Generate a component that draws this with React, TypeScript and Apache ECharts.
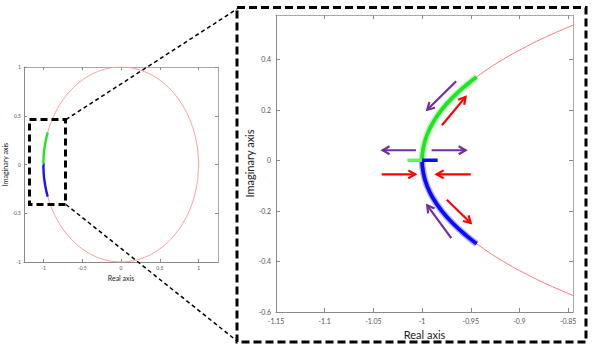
import React, { useEffect, useRef } from "react";
import * as echarts from "echarts";

// Unit circle (overview plot), read as points on the picture
const circleFull: number[][] = [
  [1, 0], [0.9848, 0.1736], [0.9397, 0.342], [0.866, 0.5], [0.766, 0.6428], [0.6428, 0.766], [0.5, 0.866],
  [0.342, 0.9397], [0.1736, 0.9848], [0, 1], [-0.1736, 0.9848], [-0.342, 0.9397], [-0.5, 0.866],
  [-0.6428, 0.766], [-0.766, 0.6428], [-0.866, 0.5], [-0.9397, 0.342], [-0.9848, 0.1736], [-1, 0],
  [-0.9848, -0.1736], [-0.9397, -0.342], [-0.866, -0.5], [-0.766, -0.6428], [-0.6428, -0.766], [-0.5, -0.866],
  [-0.342, -0.9397], [-0.1736, -0.9848], [0, -1], [0.1736, -0.9848], [0.342, -0.9397], [0.5, -0.866],
  [0.6428, -0.766], [0.766, -0.6428], [0.866, -0.5], [0.9397, -0.342], [0.9848, -0.1736], [1, 0],
];

// Arc of the circle in the zoomed plot
const circleArc: number[][] = [
  [-0.8352, -0.55], [-0.866, -0.5], [-0.893, -0.45], [-0.9165, -0.4], [-0.9367, -0.35], [-0.9539, -0.3],
  [-0.9682, -0.25], [-0.9798, -0.2], [-0.9887, -0.15], [-0.995, -0.1], [-0.9987, -0.05], [-1, 0],
  [-0.9987, 0.05], [-0.995, 0.1], [-0.9887, 0.15], [-0.9798, 0.2], [-0.9682, 0.25], [-0.9539, 0.3],
  [-0.9367, 0.35], [-0.9165, 0.4], [-0.893, 0.45], [-0.866, 0.5], [-0.8352, 0.55],
];

const greenArc: number[][] = [
  [-1, 0], [-0.9987, 0.05], [-0.995, 0.1], [-0.9887, 0.15], [-0.9798, 0.2], [-0.9682, 0.25], [-0.9539, 0.3], [-0.944, 0.33],
];
const blueArc: number[][] = [
  [-1, 0], [-0.9987, -0.05], [-0.995, -0.1], [-0.9887, -0.15], [-0.9798, -0.2], [-0.9682, -0.25], [-0.9539, -0.3], [-0.944, -0.33],
];
const greenStub: number[][] = [[-1.015, 0], [-1, 0]];
const blueStub: number[][] = [[-1, 0], [-0.984, 0]];

// Arrows: [xFrom, yFrom, xTo, yTo]
const purpleArrows: number[][] = [
  [-0.965, 0.313, -0.9947, 0.2],
  [-1.0063, 0.04, -1.0405, 0.04],
  [-0.9902, 0.04, -0.9553, 0.04],
  [-0.97, -0.308, -0.9947, -0.178],
];
const redArrows: number[][] = [
  [-0.9796, 0.139, -0.9553, 0.251],
  [-1.0415, -0.0554, -1.007, -0.0554],
  [-0.95, -0.0554, -0.985, -0.0554],
  [-0.9746, -0.1557, -0.95, -0.248],
];

// Tick labels
const overviewXTicks = [-1, -0.5, 0, 0.5, 1];
const overviewYTicks = [-1, -0.5, 0, 0.5, 1];
const zoomXTicks = [-1.15, -1.1, -1.05, -1, -0.95, -0.9, -0.85];
const zoomYTicks = [-0.6, -0.4, -0.2, 0, 0.2, 0.4];

const FONT = "Lato";

function axis(gridIndex: number, pos: string, min: number, max: number, ticks: number[], opts: any) {
  const main = pos === "bottom" || pos === "left";
  return {
    type: "value",
    gridIndex,
    position: pos,
    min,
    max,
    axisLine: { show: true, onZero: false, lineStyle: { color: main ? "#8a8a8a" : "#a8a8a8", width: 1 } },
    axisTick: { show: true, inside: true, length: opts.tickLen, customValues: ticks, lineStyle: { color: "#8a8a8a" } },
    axisLabel: main
      ? { show: true, customValues: ticks, fontSize: opts.labelSize, margin: opts.labelMargin, color: "#555", fontFamily: FONT, formatter: (v: number) => String(v) }
      : { show: false },
    splitLine: { show: false },
    name: main ? opts.name : "",
    nameLocation: "middle",
    nameGap: opts.nameGap,
    nameTextStyle: { fontSize: opts.nameSize, color: "#222", fontFamily: FONT },
  };
}

function arrowSeries(data: number[][], color: string) {
  return {
    type: "custom",
    xAxisIndex: 2,
    yAxisIndex: 2,
    data,
    z: 5,
    encode: { x: [0, 2], y: [1, 3] },
    renderItem: (params: any, api: any) => {
      const a = api.coord([api.value(0), api.value(1)]);
      const b = api.coord([api.value(2), api.value(3)]);
      const ang = Math.atan2(b[1] - a[1], b[0] - a[0]);
      const L = 8, w = 0.52;
      const h1 = [b[0] - L * Math.cos(ang - w), b[1] - L * Math.sin(ang - w)];
      const h2 = [b[0] - L * Math.cos(ang + w), b[1] - L * Math.sin(ang + w)];
      return {
        type: "group",
        children: [
          { type: "line", shape: { x1: a[0], y1: a[1], x2: b[0], y2: b[1] }, style: { stroke: color, lineWidth: 2.2 } },
          { type: "polyline", shape: { points: [h1, b, h2] }, style: { stroke: color, fill: "none", lineWidth: 2.2 } },
        ],
      };
    },
  };
}

function lineSeries(data: number[][], xi: number, yi: number, color: string, width: number, smooth: any = true, z = 2) {
  return {
    type: "line",
    xAxisIndex: xi,
    yAxisIndex: yi,
    data,
    smooth,
    symbol: "none",
    showSymbol: false,
    z,
    lineStyle: { color, width },
  };
}

export default function App() {
  const ref = useRef<HTMLDivElement>(null);
  useEffect(() => {
    if (!ref.current) return;
    const chart = echarts.init(ref.current, undefined, { renderer: "svg" });
    const ovOpts = { tickLen: 3, labelSize: 5, labelMargin: 3, nameSize: 7, nameGap: 8 };
    const ovYOpts = { ...ovOpts, nameGap: 12 };
    const zOpts = { tickLen: 4, labelSize: 7, labelMargin: 5, nameSize: 11, nameGap: 13 };
    const zYOpts = { ...zOpts, nameGap: 16 };
    chart.setOption({
      animation: false,
      backgroundColor: "#ffffff",
      grid: [
        { left: 24, top: 67, width: 194, height: 195 },
        { left: 276, top: 15, width: 297, height: 297 },
      ],
      xAxis: [
        axis(0, "bottom", -1.25, 1.25, overviewXTicks, { ...ovOpts, name: "Real axis" }),
        axis(0, "top", -1.25, 1.25, overviewXTicks, ovOpts),
        axis(1, "bottom", -1.15, -0.845, zoomXTicks, { ...zOpts, name: "Real axis" }),
        axis(1, "top", -1.15, -0.845, zoomXTicks, zOpts),
      ],
      yAxis: [
        axis(0, "left", -1, 1, overviewYTicks, { ...ovYOpts, name: "Imaginary axis" }),
        axis(0, "right", -1, 1, overviewYTicks, ovYOpts),
        axis(1, "left", -0.6, 0.575, zoomYTicks, { ...zYOpts, name: "Imaginary axis" }),
        axis(1, "right", -0.6, 0.575, zoomYTicks, zYOpts),
      ],
      series: [
        lineSeries(circleFull, 0, 0, "#ff9d9d", 1, 0.3),
        lineSeries(blueArc, 0, 0, "#1414ff", 2.4, true, 3),
        lineSeries(greenArc, 0, 0, "#22e622", 2.4, true, 3),
        lineSeries(greenStub, 0, 0, "#55ee55", 2, false, 3),
        lineSeries(blueStub, 0, 0, "#1414ff", 2, false, 3),

        lineSeries(circleArc, 2, 2, "#ff7878", 1),
        lineSeries(blueArc, 2, 2, "rgba(60,60,255,0.4)", 6.5, true, 3),
        lineSeries(greenArc, 2, 2, "rgba(80,240,80,0.4)", 6.5, true, 3),
        lineSeries(blueArc, 2, 2, "#0a0aff", 3.8, true, 4),
        lineSeries(greenArc, 2, 2, "#1ee61e", 3.8, true, 4),
        lineSeries(greenStub, 2, 2, "#66ee66", 3.5, false, 4),
        lineSeries(blueStub, 2, 2, "#0a0aff", 3.5, false, 4),
        arrowSeries(purpleArrows, "#7030a0"),
        arrowSeries(redArrows, "#ff0000"),
      ],
      graphic: [
        {
          type: "rect",
          shape: { x: 29.5, y: 119.5, width: 36, height: 85 },
          style: { fill: "none", stroke: "#000", lineWidth: 3, lineDash: [7, 4] },
          z: 10,
        },
        {
          type: "rect",
          shape: { x: 237, y: 7.5, width: 349, height: 334.5 },
          style: { fill: "none", stroke: "#000", lineWidth: 3, lineDash: [8, 4] },
          z: 10,
        },
        {
          type: "line",
          shape: { x1: 66, y1: 119.5, x2: 237, y2: 9 },
          style: { stroke: "#000", lineWidth: 1.5, lineDash: [4, 3] },
          z: 10,
        },
        {
          type: "line",
          shape: { x1: 66, y1: 204.5, x2: 237, y2: 341 },
          style: { stroke: "#000", lineWidth: 1.5, lineDash: [4, 3] },
          z: 10,
        },
      ],
    });
    return () => chart.dispose();
  }, []);
  return <div ref={ref} style={{ position: "fixed", left: 0, top: 0, width: 596, height: 349 }} />;
}
